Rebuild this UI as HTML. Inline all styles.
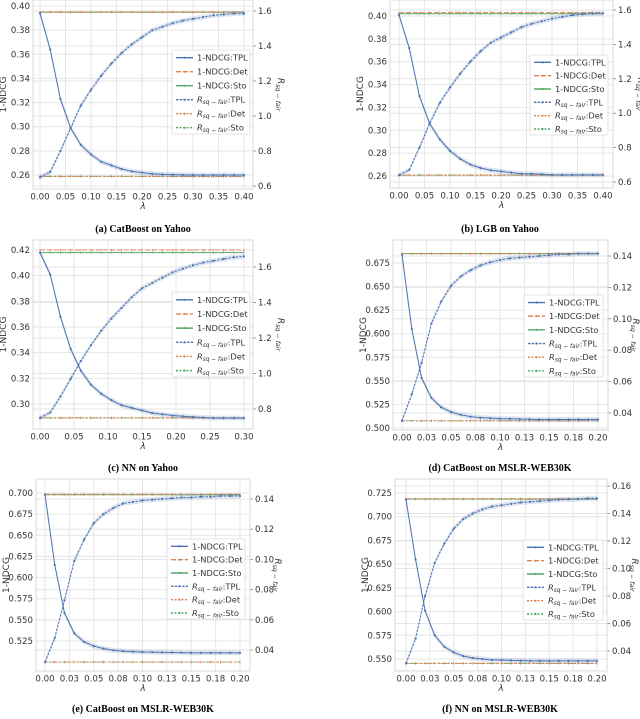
<!DOCTYPE html>
<html><head><meta charset="utf-8"><style>
html,body{margin:0;padding:0;background:#fff;}
svg{display:block;font-family:"DejaVu Sans","Liberation Sans",sans-serif;}
</style></head><body>
<svg id="fig" width="640" height="719" viewBox="0 0 640 719" xmlns="http://www.w3.org/2000/svg"></svg>
<script>
// ---- data ----
const lamA = [0,0.02,0.04,0.06,0.08,0.10,0.12,0.14,0.16,0.18,0.20,0.22,0.24,0.26,0.28,0.30,0.32,0.34,0.36,0.38,0.40];
const ndcgTplA = [0.394,0.364,0.323,0.299,0.285,0.277,0.271,0.268,0.265,0.263,0.262,0.261,0.2605,0.2603,0.2601,0.260,0.260,0.260,0.260,0.260,0.260];
const rTplA = [0.65,0.68,0.80,0.93,1.06,1.15,1.23,1.30,1.36,1.41,1.45,1.49,1.51,1.53,1.545,1.555,1.565,1.575,1.58,1.585,1.585];
const ndcgDetA = 0.395, ndcgStoA = 0.3948, rDetA = 0.655, rStoA = 0.655;

const lamB = lamA;
const ndcgTplB = [0.401,0.372,0.330,0.306,0.292,0.282,0.275,0.270,0.267,0.265,0.264,0.263,0.262,0.262,0.2615,0.261,0.261,0.261,0.261,0.261,0.261];
const rTplB = [0.64,0.67,0.80,0.94,1.06,1.15,1.23,1.30,1.36,1.41,1.44,1.47,1.50,1.52,1.535,1.55,1.56,1.57,1.575,1.58,1.58];
const ndcgDetB = 0.403, ndcgStoB = 0.402, rDetB = 0.64, rStoB = 0.64;

const lamC = [0,0.015,0.03,0.045,0.06,0.075,0.09,0.105,0.12,0.135,0.15,0.165,0.18,0.195,0.21,0.225,0.24,0.255,0.27,0.285,0.30];
const ndcgTplC = [0.418,0.401,0.368,0.343,0.326,0.315,0.308,0.303,0.299,0.297,0.295,0.293,0.292,0.291,0.2905,0.290,0.2895,0.289,0.289,0.289,0.289];
const rTplC = [0.75,0.78,0.87,0.97,1.07,1.16,1.24,1.31,1.37,1.43,1.48,1.51,1.54,1.57,1.59,1.61,1.625,1.635,1.645,1.655,1.66];
const ndcgDetC = 0.420, ndcgStoC = 0.418, rDetC = 0.75, rStoC = 0.75;

const lamD = [0,0.01,0.02,0.03,0.04,0.05,0.06,0.07,0.08,0.09,0.10,0.11,0.12,0.13,0.14,0.15,0.16,0.17,0.18,0.19,0.20];
const ndcgTplD = [0.684,0.605,0.553,0.532,0.522,0.517,0.514,0.512,0.511,0.5105,0.510,0.5098,0.5095,0.5093,0.509,0.509,0.509,0.509,0.509,0.509,0.509];
const rTplD = [0.035,0.052,0.072,0.097,0.111,0.121,0.127,0.131,0.134,0.136,0.1375,0.1385,0.139,0.1395,0.140,0.1405,0.141,0.141,0.1415,0.1415,0.1415];
const ndcgDetD = 0.685, ndcgStoD = 0.685, rDetD = 0.035, rStoD = 0.035;

const lamE = lamD;
const ndcgTplE = [0.698,0.615,0.558,0.534,0.524,0.519,0.516,0.514,0.513,0.5125,0.512,0.5118,0.5116,0.5114,0.5112,0.511,0.511,0.511,0.511,0.511,0.511];
const rTplE = [0.032,0.048,0.073,0.099,0.113,0.124,0.130,0.134,0.137,0.138,0.139,0.1395,0.140,0.1405,0.141,0.141,0.1415,0.1415,0.142,0.142,0.142];
const ndcgDetE = 0.6985, ndcgStoE = 0.698, rDetE = 0.032, rStoE = 0.032;

const lamF = lamD;
const ndcgTplF = [0.718,0.655,0.601,0.575,0.563,0.557,0.553,0.551,0.550,0.549,0.549,0.5485,0.5483,0.548,0.548,0.548,0.548,0.548,0.548,0.548,0.548];
const rTplF = [0.031,0.049,0.080,0.104,0.118,0.129,0.136,0.140,0.143,0.145,0.146,0.147,0.148,0.1485,0.149,0.1495,0.150,0.1503,0.1505,0.151,0.151];
const ndcgDetF = 0.719, ndcgStoF = 0.7185, rDetF = 0.031, rStoF = 0.031;

const xTicksYahoo = [0,0.05,0.10,0.15,0.20,0.25,0.30,0.35,0.40];
const xLabelsYahoo = ["0.00","0.05","0.10","0.15","0.20","0.25","0.30","0.35","0.40"];
const xTicksNN = [0,0.05,0.10,0.15,0.20,0.25,0.30];
const xLabelsNN = ["0.00","0.05","0.10","0.15","0.20","0.25","0.30"];
const xTicksMslr = [0,0.025,0.05,0.075,0.10,0.125,0.15,0.175,0.20];
const xLabelsMslr = ["0.00","0.03","0.05","0.08","0.10","0.13","0.15","0.18","0.20"];
const yTicksAB = [0.26,0.28,0.30,0.32,0.34,0.36,0.38,0.40];
const yTicksC = [0.30,0.32,0.34,0.36,0.38,0.40,0.42];
const yTicksD = [0.500,0.525,0.550,0.575,0.600,0.625,0.650,0.675];
const yTicksE = [0.525,0.550,0.575,0.600,0.625,0.650,0.675,0.700];
const yTicksF = [0.550,0.575,0.600,0.625,0.650,0.675,0.700,0.725];
const rTicksAB = [0.6,0.8,1.0,1.2,1.4,1.6];
const rTicksC = [0.8,1.0,1.2,1.4,1.6];
const rTicksDE = [0.04,0.06,0.08,0.10,0.12,0.14];
const rTicksF = [0.04,0.06,0.08,0.10,0.12,0.14,0.16];

// ---- rendering ----
const NS = "http://www.w3.org/2000/svg";
const svg = document.getElementById('fig');
const BLUE="#4c72b0", ORANGE="#dd8452", GREEN="#55a868", GRID="#e6e6e6";
function mk(tag, attrs, parent){ const e=document.createElementNS(NS,tag); for(const k in attrs) e.setAttribute(k,attrs[k]); (parent||svg).appendChild(e); return e; }
function lin(v0,p0,v1,p1){ return v=> p0+(v-v0)/(v1-v0)*(p1-p0); }

function panel(c){
  const g = mk('g',{});
  
  
  const xs = lin(c.xCal[0],c.xCal[1],c.xCal[2],c.xCal[3]);
  const yl = lin(c.lCal[0],c.lCal[1],c.lCal[2],c.lCal[3]);
  const yr = lin(c.rCal[0],c.rCal[1],c.rCal[2],c.rCal[3]);
  const [L,T,R,B] = c.frame;
  c.xTicks.forEach((t,i)=>{
    const x=xs(t);
    const gl=mk('line',{x1:x,x2:x,y1:T,y2:B,stroke:GRID,'stroke-width':1},g);
    
    
    const tx=mk('text',{x:x,y:B+10.5,'font-size':8.6,fill:'#333','text-anchor':'middle'},g);
    tx.textContent=c.xLabels[i];
    
    
  });
  c.yTicks.forEach(t=>{
    const y=yl(t);
    const gl=mk('line',{x1:L,x2:R,y1:y,y2:y,stroke:GRID,'stroke-width':1},g);
    
    
    const tx=mk('text',{x:L-3,y:y+3,'font-size':8.6,fill:'#333','text-anchor':'end'},g);
    tx.textContent=t.toFixed(c.yDec);
    
    
  });
  c.rTicks.forEach(t=>{
    const y=yr(t);
    const gl=mk('line',{x1:L,x2:R,y1:y,y2:y,stroke:GRID,'stroke-width':1},g);
    
    
    const tk=mk('line',{x1:R,x2:R+3,y1:y,y2:y,stroke:'#555','stroke-width':0.6},g);
    
    
    const tx=mk('text',{x:R+5,y:y+3,'font-size':8.6,fill:'#333','text-anchor':'start'},g);
    tx.textContent=t.toFixed(c.rDec);
    
    
  });
  const fr=mk('rect',{x:L,y:T,width:R-L,height:B-T,fill:'none',stroke:'#d8d8d8','stroke-width':1},g);
  
  
  const yt=mk('text',{x:0,y:0,'font-size':9,fill:'#333','text-anchor':'middle',transform:`translate(${L-27},${(T+B)/2}) rotate(-90)`},g);
  yt.textContent='1-NDCG';
  
  
  const rt=mk('text',{x:0,y:0,'font-size':9,fill:'#333','text-anchor':'middle',transform:`translate(${R+25},${(T+B)/2}) rotate(90)`},g);
  rt.innerHTML='<tspan font-style="italic">R</tspan><tspan font-size="6.3" font-style="italic" dy="2">sq − fair</tspan>';
  
  
  const xt=mk('text',{x:(L+R)/2,y:B+20,'font-size':9,fill:'#333','text-anchor':'middle','font-style':'italic'},g);
  xt.textContent='λ';
  
  
  const cap=mk('text',{x:c.capX,y:c.capY,'font-size':10,fill:'#000','text-anchor':'middle','font-weight':'bold','font-family':'"Liberation Serif",serif'},g);
  cap.textContent=c.caption;
  
  
  const x0=xs(c.lam[0]), x1=xs(c.lam[c.lam.length-1]);
  function hline(y,col,dash,w,name){
    const l=mk('line',{x1:x0,x2:x1,y1:y,y2:y,stroke:col,'stroke-width':w,'stroke-dasharray':dash},g);
    
    
    c.lam.forEach(v=>{ const m=mk('line',{x1:xs(v),x2:xs(v),y1:y-1.2,y2:y+1.2,stroke:col,'stroke-width':0.6},g);
      
       });
  }
  hline(yl(c.ndcgSto),GREEN,'none',1,'ndcg-sto-line');
  hline(yl(c.ndcgDet),ORANGE,'5,2',1,'ndcg-det-line');
  hline(yr(c.rSto),GREEN,'2,1.5',0.9,'r-sto-line');
  hline(yr(c.rDet),ORANGE,'3,1.5',0.9,'r-det-line');
  function series(vals,scale,dash,name){
    const pts=c.lam.map((v,i)=>[xs(v),scale(vals[i])]);
    const up=pts.map(p=>p[0]+','+(p[1]-2.5)).join(' ');
    const dn=pts.slice().reverse().map(p=>p[0]+','+(p[1]+2.5)).join(' ');
    const band=mk('polygon',{points:up+' '+dn,fill:BLUE,'fill-opacity':0.18,stroke:'none'},g);
    
    
    const pl=mk('polyline',{points:pts.map(p=>p.join(',')).join(' '),fill:'none',stroke:BLUE,'stroke-width':1,'stroke-dasharray':dash},g);
    
    
    pts.forEach(p=>{ const d=mk('circle',{cx:p[0],cy:p[1],r:1.1,fill:BLUE},g);
      
       });
  }
  series(c.ndcgTpl,yl,'none','ndcg-tpl');
  series(c.rTpl,yr,'2.5,1.2','r-tpl');
  const [lx,ly,lw,lh]=c.legend;
  const lg=mk('g',{},g);
  
  
  mk('rect',{x:lx,y:ly,width:lw,height:lh,fill:'#fff','fill-opacity':0.85,stroke:'#ddd','stroke-width':0.8,rx:1.5},lg);
  const entries=[['1-NDCG:TPL',BLUE,'none',false],['1-NDCG:Det',ORANGE,'5,2',false],['1-NDCG:Sto',GREEN,'none',false],
    ['TPL',BLUE,'2.5,1.2',true],['Det',ORANGE,'2,1.5',true],['Sto',GREEN,'2,1.5',true]];
  const step=lh/6;
  entries.forEach((e,i)=>{
    const y=ly+step*(i+0.55);
    const eg=mk('g',{},lg);
    
    
    mk('line',{x1:lx+4,x2:lx+21,y1:y,y2:y,stroke:e[1],'stroke-width':1.4,'stroke-dasharray':e[2]},eg);
    mk('circle',{cx:lx+12.5,cy:y,r:1.1,fill:e[1]},eg);
    const t=mk('text',{x:lx+25,y:y+3,'font-size':8.3,fill:'#333'},eg);
    if(e[3]) t.innerHTML='<tspan font-style="italic">R</tspan><tspan font-size="5.8" font-style="italic" dy="1.5">sq − fair</tspan><tspan dy="-1.5">:'+e[0]+'</tspan>';
    else t.textContent=e[0];
  });
}

panel({id:'a',lam:lamA,ndcgTpl:ndcgTplA,rTpl:rTplA,ndcgDet:ndcgDetA,ndcgSto:ndcgStoA,rDet:rDetA,rSto:rStoA,
  xTicks:xTicksYahoo,xLabels:xLabelsYahoo,yTicks:yTicksAB,rTicks:rTicksAB,yDec:2,rDec:1,
  frame:[33,0,253,189],xCal:[0,40,0.4,244],lCal:[0.26,175,0.40,6],rCal:[0.6,186,1.6,11],
  legend:[172,50,78,84],caption:'(a) CatBoost on Yahoo',capX:143,capY:232});
panel({id:'b',lam:lamB,ndcgTpl:ndcgTplB,rTpl:rTplB,ndcgDet:ndcgDetB,ndcgSto:ndcgStoB,rDet:rDetB,rSto:rStoB,
  xTicks:xTicksYahoo,xLabels:xLabelsYahoo,yTicks:yTicksAB,rTicks:rTicksAB,yDec:2,rDec:1,
  frame:[390,0,613,188],xCal:[0,399,0.4,603],lCal:[0.26,176,0.40,16],rCal:[0.6,182,1.6,10],
  legend:[530,55,78,80],caption:'(b) LGB on Yahoo',capX:500,capY:232});
panel({id:'c',lam:lamC,ndcgTpl:ndcgTplC,rTpl:rTplC,ndcgDet:ndcgDetC,ndcgSto:ndcgStoC,rDet:rDetC,rSto:rStoC,
  xTicks:xTicksNN,xLabels:xLabelsNN,yTicks:yTicksC,rTicks:rTicksC,yDec:2,rDec:1,
  frame:[33,240,253,429],xCal:[0,40,0.3,244],lCal:[0.30,404,0.42,250],rCal:[0.8,409,1.6,267],
  legend:[172,292,78,85],caption:'(c) NN on Yahoo',capX:143,capY:471});
panel({id:'d',lam:lamD,ndcgTpl:ndcgTplD,rTpl:rTplD,ndcgDet:ndcgDetD,ndcgSto:ndcgStoD,rDet:rDetD,rSto:rStoD,
  xTicks:xTicksMslr,xLabels:xLabelsMslr,yTicks:yTicksD,rTicks:rTicksDE,yDec:3,rDec:2,
  frame:[393,240,608,430],xCal:[0,402,0.2,598],lCal:[0.500,428,0.675,263],rCal:[0.04,413,0.14,256],
  legend:[524,295,79,82],caption:'(d) CatBoost on MSLR-WEB30K',capX:500,capY:471});
panel({id:'e',lam:lamE,ndcgTpl:ndcgTplE,rTpl:rTplE,ndcgDet:ndcgDetE,ndcgSto:ndcgStoE,rDet:rDetE,rSto:rStoE,
  xTicks:xTicksMslr,xLabels:xLabelsMslr,yTicks:yTicksE,rTicks:rTicksDE,yDec:3,rDec:2,
  frame:[36,479,250,671],xCal:[0,45,0.2,240],lCal:[0.525,641,0.700,493],rCal:[0.04,650,0.14,499],
  legend:[167,539,78,80],caption:'(e) CatBoost on MSLR-WEB30K',capX:143,capY:712});
panel({id:'f',lam:lamF,ndcgTpl:ndcgTplF,rTpl:rTplF,ndcgDet:ndcgDetF,ndcgSto:ndcgStoF,rDet:rDetF,rSto:rStoF,
  xTicks:xTicksMslr,xLabels:xLabelsMslr,yTicks:yTicksF,rTicks:rTicksF,yDec:3,rDec:2,
  frame:[395,479,607,671],xCal:[0,406,0.2,597],lCal:[0.550,659,0.725,493],rCal:[0.04,651,0.16,486],
  legend:[523,540,80,80],caption:'(f) NN on MSLR-WEB30K',capX:500,capY:712});
</script>
</body></html>
